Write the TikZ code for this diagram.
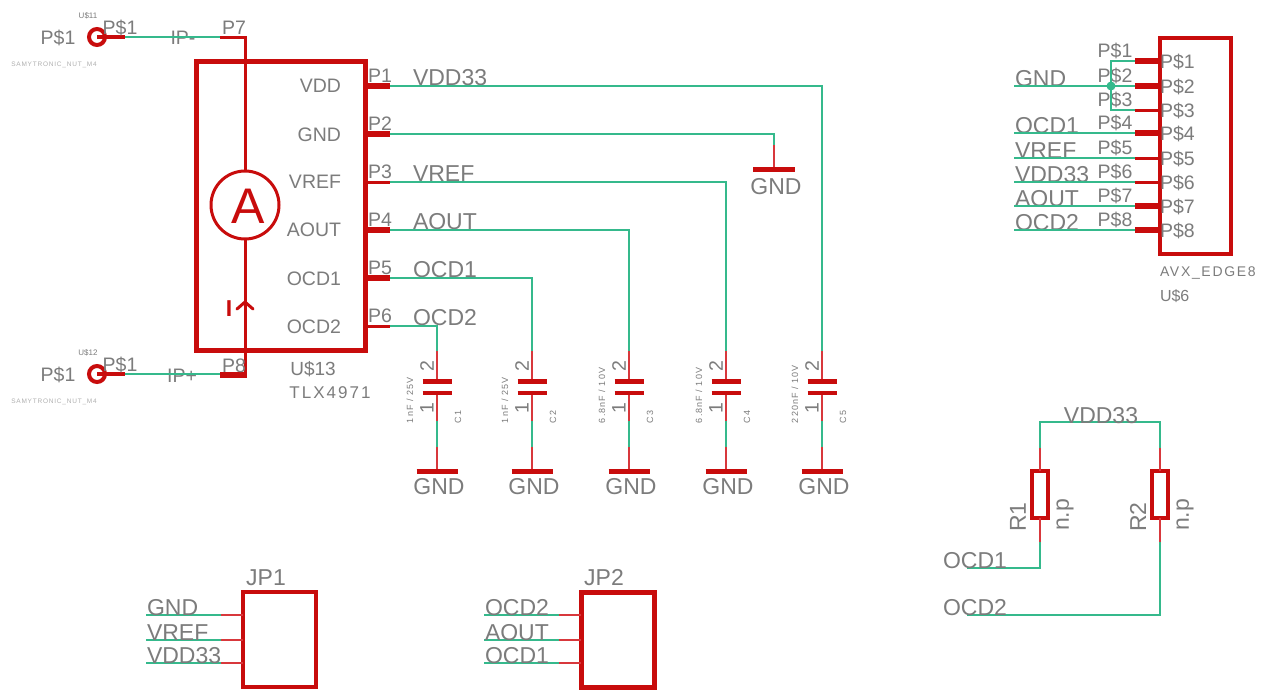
\documentclass[tikz,border=0pt]{standalone}
\usepackage{fontspec}
\setmainfont{Liberation Sans}
\newfontfamily\widefont[LetterSpace=12]{Liberation Sans}
\definecolor{symred}{HTML}{C80C0C}
\definecolor{leadred}{HTML}{D8383C}
\definecolor{netgreen}{HTML}{35B98C}
\definecolor{labelgray}{HTML}{7C7C7C}
\tikzset{%
  every node/.style={inner sep=0pt,outer sep=0pt,text=labelgray},
  wire/.style={draw=netgreen,line width=1.8pt},
  lead/.style={draw=leadred,line width=2pt},
  pinfat/.style={draw=symred,line width=5.5pt},
  pinslim/.style={draw=symred,line width=3pt},
  bar/.style={draw=symred,line width=5pt},
  rail/.style={draw=symred,line width=3pt},
  netname/.style={anchor=base west,font=\fontsize{23}{23}\selectfont},
  gndname/.style={anchor=center,font=\fontsize{23}{23}\selectfont},
  pinname/.style={anchor=center,font=\fontsize{19.5}{20}\selectfont},
  tinyname/.style={anchor=center,font=\fontsize{8}{8}\selectfont},
  smallname/.style={anchor=center,font=\widefont\fontsize{6.5}{7}\selectfont,text=labelgray!60},
  capname/.style={anchor=west,rotate=90,font=\widefont\fontsize{9}{9}\selectfont},
  chip/.style={draw=symred,rectangle,inner sep=0pt},
}
\begin{document}
\begin{tikzpicture}[x=1pt,y=-1pt]
    \path[fill=white,use as bounding box] (0,0) rectangle (1273,689);

    % sensor body
    \node[chip,line width=5pt,minimum width=168.5pt,minimum height=288.5pt](u13) at (280.75,205.75){};
    \node[pinname,font=\fontsize{19}{20}\selectfont](u13name) at (313,369){U\$13};
    \node[pinname,font=\widefont\fontsize{17}{18}\selectfont](u13val) at (330,393){TLX4971};
    \foreach \n/\y/\t/\w/\ty in {1/86/VDD/pinfat/86,2/134/GND/pinfat/135,3/182/VREF/pinslim/182,4/230/AOUT/pinfat/230,5/278/OCD1/pinfat/279,6/326/OCD2/pinslim/327}{
        \coordinate (p\n) at (365,\y);
        \coordinate (q\n) at (390,\y);
        \draw[\w] (p\n) -- (q\n);
        \node[pinname,anchor=east](sig\n) at (341,\ty){\t};
        \node[pinname](pn\n) at (380,\y-10){P\n};
    }
    \foreach \n/\t in {1/VDD33,3/VREF,4/AOUT,5/OCD1,6/OCD2}{
        \node[netname,anchor=base west] (net\n) at ([xshift=23pt,yshift=1pt]q\n) {\t};
    }

    % current path
    \node[circle,draw=symred,line width=3pt,minimum size=68pt](amp) at (245,205){};
    \node[text=symred,font=\fontsize{50}{50}\selectfont](ampname) at (248,206){A};
    \coordinate (ipa) at (220,37);
    \coordinate (ipb) at (245,37);
    \coordinate (ina) at (220,375);
    \coordinate (inb) at (245,375);
    \draw[rail,line join=miter] (ipa) -- (ipb) -- (amp.north);
    \draw[rail,line join=miter] (amp.south) -- (inb);
    \draw[pinfat] (ina) -- ([xshift=1.5pt]inb);
    \coordinate (tip) at (245,302);
    \draw[draw=symred,line width=3pt,line cap=round] ([xshift=-8pt,yshift=-7pt]tip) -- (tip) -- ([xshift=8pt,yshift=-7pt]tip);
    \node[text=symred,font=\bfseries\fontsize{23}{23}\selectfont](iname) at (229,309){I};
    \node[pinname](p7name) at (234,28){P7};
    \node[pinname](p8name) at (234,366){P8};
    \node[pinname](ipname) at (183,38){IP-};
    \node[pinname](inname) at (182,376){IP+};

    % current terminals
    \foreach \i/\y/\t in {1/37/U\$11,2/374/U\$12}{
        \node[circle,draw=symred,line width=4pt,fill=white,minimum size=16pt](nut\i) at (97,\y){};
        \coordinate (nutpin\i) at (125,\y);
        \draw[draw=symred,line width=4pt] (nut\i.center) -- (nutpin\i);
        \node[pinname](nutl\i) at (58,\y+1){P\$1};
        \node[pinname](nutu\i) at (120,\y-9){P\$1};
        \node[tinyname](nutn\i) at (88,\y-21){\t};
        \node[smallname](nutv\i) at (54,\y+28){SAMYTRONIC\_NUT\_M4};
    }
    \draw[wire] (nutpin1) -- (ipa);
    \draw[wire] (nutpin2) -- (ina |- nutpin2);

    % capacitors
    \foreach \i/\x/\v in {1/437/{1nF / 25V},2/532/{1nF / 25V},3/629/{6.8nF / 10V},4/726/{6.8nF / 10V},5/822/{220nF / 10V}}{
        \coordinate (ca\i) at (\x,351);
        \coordinate (cb\i) at (\x,381);
        \coordinate (cc\i) at (\x,393);
        \coordinate (cd\i) at (\x,421);
        \coordinate (ce\i) at (\x,447);
        \coordinate (cf\i) at (\x,471);
        \draw[lead] (ca\i) -- (cb\i);
        \draw[lead] (cc\i) -- (cd\i);
        \draw[wire] (cd\i) -- (ce\i);
        \draw[lead] (ce\i) -- (cf\i);
        \draw[bar] ([xshift=-14.5pt]cb\i) -- ([xshift=14.5pt]cb\i);
        \draw[draw=symred,line width=3.5pt] ([xshift=-14.5pt]cc\i) -- ([xshift=14.5pt]cc\i);
        \draw[bar] ([xshift=-20.5pt]cf\i) -- ([xshift=20.5pt]cf\i);
        \node[gndname](cgnd\i) at (\x+2,487){GND};
        \node[pinname,rotate=90](cu\i) at (\x-10,366){2};
        \node[pinname,rotate=90](cl\i) at (\x-10,408){1};
        \node[capname](cv\i) at (\x-27,423){\v};
        \node[capname](cn\i) at (\x+21,423){C\i};
    }
    \draw[wire] (q1) -- (q1 -| ca5) -- (ca5);
    \draw[wire] (q3) -- (q3 -| ca4) -- (ca4);
    \draw[wire] (q4) -- (q4 -| ca3) -- (ca3);
    \draw[wire] (q5) -- (q5 -| ca2) -- (ca2);
    \draw[wire] (q6) -- (q6 -| ca1) -- (ca1);

    % ground of sensor
    \coordinate (ga) at (774,145);
    \coordinate (gb) at (774,169);
    \draw[wire] (q2) -- (q2 -| ga) -- (ga);
    \draw[lead] (ga) -- (gb);
    \draw[bar] ([xshift=-21pt]gb) -- ([xshift=21pt]gb);
    \node[gndname](ggnd) at (776,187){GND};

    % edge connector
    \node[chip,line width=4pt,minimum width=71pt,minimum height=216pt](edge) at (1195.5,146){};
    \node[pinname,anchor=west,font=\widefont\fontsize{14}{15}\selectfont](edgeval) at (1160,273){AVX\_EDGE8};
    \node[pinname,anchor=west,font=\fontsize{16}{16}\selectfont](edgename) at (1160,296){U\$6};
    \foreach \n/\y/\w in {1/61/pinfat,2/86/pinfat,3/110/pinslim,4/133/pinfat,5/158/pinslim,6/182/pinslim,7/206/pinfat,8/230/pinfat}{
        \coordinate (ea\n) at (1135,\y);
        \coordinate (eb\n) at (1160,\y);
        \draw[\w] (ea\n) -- (eb\n);
        \node[pinname](eo\n) at (1115,\y-10){P\$\n};
        \node[pinname,anchor=west](ei\n) at (1160,\y+1){P\$\n};
    }
    \foreach \n/\y/\t in {2/86/GND,4/133/OCD1,5/158/VREF,6/182/VDD33,7/206/AOUT,8/230/OCD2}{
        \node[netname](en\n) at (1015,\y){\t};
        \coordinate (ew\n) at (1014,\y);
        \draw[wire] (ew\n) -- (ea\n);
    }
    \node[circle,fill=netgreen,minimum size=9pt](dot) at (1111,86){};
    \draw[wire] (ea1) -- (ea1 -| dot) -- (ea3 -| dot) -- (ea3);

    % pull-up resistors
    \foreach \i/\x in {1/1040,2/1160}{
        \node[chip,line width=4.5pt,minimum width=16pt,minimum height=47pt](r\i) at (\x,494.5){};
        \coordinate (ra\i) at (\x,448);
        \coordinate (rb\i) at (\x,542);
        \coordinate (rt\i) at (\x,422);
        \draw[lead] (ra\i) -- (r\i.north);
        \draw[lead] (r\i.south) -- (rb\i);
        \node[gndname,rotate=90](rn\i) at (\x-22,517){R\i};
        \node[gndname,rotate=90](rv\i) at (\x+25,515){n.p};
    }
    \draw[wire] (ra1) -- (rt1) -- (rt2) -- (ra2);
    \node[gndname,anchor=base](rnet) at (1101,423){VDD33};
    \coordinate (ro1) at (967,568);
    \coordinate (ro2) at (967,615);
    \draw[wire] (rb1) -- (rb1 |- ro1) -- (ro1);
    \draw[wire] (rb2) -- (rb2 |- ro2) -- (ro2);
    \node[netname](ocdone) at (943,568){OCD1};
    \node[netname](ocdtwo) at (943,615){OCD2};

    % jumpers
    \foreach \j/\x/\lw/\a/\b/\c in {1/243/3.5pt/GND/VREF/VDD33,2/581/5pt/OCD2/AOUT/OCD1}{
        \node[chip,line width=\lw,minimum width=73pt,minimum height=95pt,anchor=north west](jp\j) at (\x,592){};
        \node[pinname,font=\fontsize{23}{23}\selectfont](jn\j) at (\x+23,578){JP\j};
        \foreach \n/\y/\t in {1/615/\a,2/640/\b,3/663/\c}{
            \coordinate (ja\j\n) at (\x-97,\y);
            \coordinate (jb\j\n) at (\x-22,\y);
            \coordinate (jc\j\n) at (\x,\y);
            \draw[lead] (jb\j\n) -- (jc\j\n);
            \draw[wire] (ja\j\n) -- (jb\j\n);
            \node[netname](jt\j\n) at (\x-96,\y){\t};
        }
    }
\end{tikzpicture}
\end{document}
